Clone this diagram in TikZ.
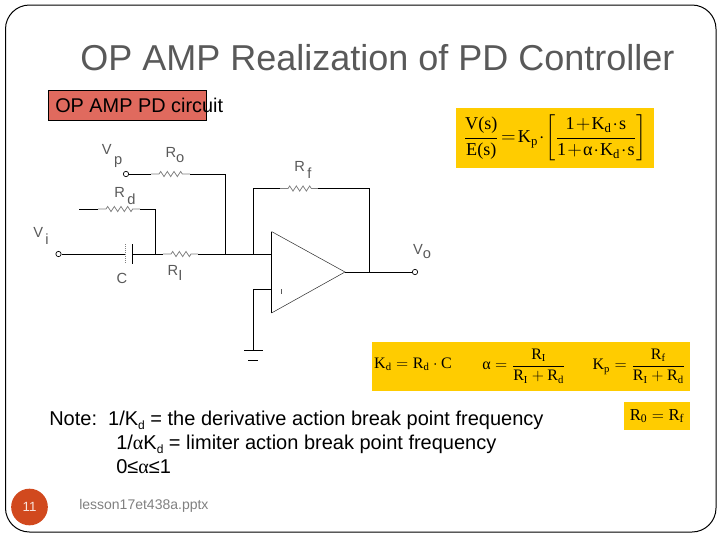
\documentclass[tikz,border=0pt]{standalone}
\usepackage{amsmath}
\usepackage{fontspec}
\setmainfont{Liberation Sans}
\newfontfamily\timesfont{Liberation Serif}
\usetikzlibrary{decorations.pathmorphing}
\definecolor{customyellow}{RGB}{255, 204, 0}
\definecolor{customred}{RGB}{224, 106, 94}
\definecolor{customorange}{RGB}{209, 73, 30}
\definecolor{customgray}{RGB}{89, 89, 89}
\newcommand{\fm}[1]{\text{\timesfont #1}}
\newcommand{\sublbl}[2]{#1\raisebox{-5pt}{\,#2}}
\newcommand{\subd}{\raisebox{-3pt}{\fontsize{9}{9}\selectfont d}}
\tikzset{
    wire/.style={line width=0.75pt},
    res/.style={line width=0.6pt, draw=gray, decorate,
        decoration={zigzag, amplitude=1.9pt, segment length=5pt, pre length=6pt, post length=4pt}},
    term/.style={circle, draw, line width=0.5pt, inner sep=0pt, minimum size=4pt},
    lbl/.style={text=customgray, font=\fontsize{11}{11}\selectfont, inner sep=0pt},
    eqbox/.style={fill=customyellow, inner sep=0pt},
    eqn/.style={inner sep=0pt, font=\fontsize{12}{14}\selectfont},
    notetext/.style={anchor=base west, inner sep=0pt, font=\fontsize{15}{17}\selectfont},
}

\begin{document}
\begin{tikzpicture}[x=0.75pt, y=-0.75pt]
    \useasboundingbox (0,0) rectangle (720,540);
    \draw[line width=0.75pt, rounded corners=18pt] (5.5,5) rectangle (716,532);

    % title and tag
    \node[anchor=base west, inner sep=0pt, text=customgray, font=\fontsize{27}{30}\selectfont] (title) at (80,70) {OP AMP Realization of PD Controller};
    \node[draw, fill=customred, line width=0.75pt, minimum width=119pt, minimum height=23pt, inner sep=0pt] (tag) at (127.5,105.5) {};
    \node[anchor=base west, inner sep=0pt, font=\fontsize{14.9}{16}\selectfont] (tagtext) at (55,112) {OP AMP PD circuit};

    % formula boxes
    \node[eqbox, minimum width=148.5pt, minimum height=45pt] (boxT) at (555,138) {};
    \node[eqbox, minimum width=238.5pt, minimum height=36.75pt] (boxK) at (531,366.5) {};
    \node[eqbox, minimum width=49.5pt, minimum height=21pt] (boxR) at (657,416) {};
    \node[eqn, font=\fontsize{13.6}{16}\selectfont] (eqT) at (555,138) {\thinmuskip=1mu\medmuskip=1mu\thickmuskip=2mu$\dfrac{\fm{V(s)}}{\fm{E(s)}} = \fm{K}_{\fm{p}} \cdot \left[\dfrac{\fm{1} + \fm{K}_{\fm{d}} \cdot \fm{s}}{\fm{1} + \fm{α} \cdot \fm{K}_{\fm{d}} \cdot \fm{s}}\right]$};
    \node[eqn] (eqKd) at (413,364) {$\fm{K}_{\fm{d}} = \fm{R}_{\fm{d}} \cdot \fm{C}$};
    \node[eqn] (eqAl) at (524,366) {$\fm{α} = \dfrac{\fm{R}_{\fm{I}}}{\fm{R}_{\fm{I}} + \fm{R}_{\fm{d}}}$};
    \node[eqn] (eqKp) at (639,366) {$\fm{K}_{\fm{p}} = \dfrac{\fm{R}_{\fm{f}}}{\fm{R}_{\fm{I}} + \fm{R}_{\fm{d}}}$};
    \node[eqn, font=\fontsize{12.5}{14}\selectfont] (eqR) at (657,416) {$\fm{R}_{\fm{0}} = \fm{R}_{\fm{f}}$};

    % circuit
    \node[term] (Vp) at (126,174) {};
    \node[term] (Vi) at (58.5,254) {};
    \node[term] (Vo) at (415,272) {};
    \coordinate (RoA) at (151,174);
    \coordinate (RoB) at (190,174);
    \coordinate (RdS) at (79,209);
    \coordinate (RdA) at (98,209);
    \coordinate (RdB) at (140,209);
    \coordinate (RdE) at (155,209);
    \coordinate (capA) at (125,254);
    \coordinate (capB) at (132.5,254);
    \coordinate (capBt) at (132.5,244);
    \coordinate (capBb) at (132.5,264);
    \coordinate (capAt) at (125,244);
    \coordinate (capAb) at (125,264);
    \coordinate (J1) at (155,254);
    \coordinate (RiA) at (163,254);
    \coordinate (RiB) at (198,254);
    \coordinate (J2) at (225.5,254);
    \coordinate (Ro2) at (225.5,174);
    \coordinate (J3) at (253.5,254);
    \coordinate (Rf1) at (253.5,188.5);
    \coordinate (RfA) at (280,188.5);
    \coordinate (RfB) at (318,188.5);
    \coordinate (Rf2) at (369,188.5);
    \coordinate (J4) at (369,272);
    \coordinate (inP) at (271.5,289.5);
    \coordinate (inM) at (271.5,254);
    \coordinate (oaT) at (271.5,231.5);
    \coordinate (oaB) at (271.5,313);
    \coordinate (oaO) at (345,272);
    \coordinate (gnd1) at (253.5,289.5);
    \coordinate (gnd2) at (253.5,350);

    \draw[wire] (Vp) -- (RoA);
    \draw[res] (RoA) -- (RoB);
    \draw[wire] (RoB) -- (Ro2) -- (J2);
    \draw[wire] (RdS) -- (RdA);
    \draw[res] (RdA) -- (RdB);
    \draw[wire] (RdB) -- (RdE) -- (J1);
    \draw[wire] (Vi) -- (capA);
    \draw[line width=0.5pt, gray, densely dotted] (capAt) -- (capAb);
    \draw[wire] (capBt) -- (capBb);
    \draw[wire] (capB) -- (RiA);
    \draw[res] (RiA) -- (RiB);
    \draw[wire] (RiB) -- (inM);
    \draw[wire] (J3) -- (Rf1) -- (RfA);
    \draw[res] (RfA) -- (RfB);
    \draw[wire] (RfB) -- (Rf2) -- (J4);
    \draw[wire] (oaT) -- (oaB);
    \draw[line width=0.4pt, black!80] (oaT) -- (oaO) -- (oaB);
    \draw[wire] (oaO) -- (Vo);
    \draw[wire] (inP) -- (gnd1) -- (gnd2);
    \draw[wire] (244,350) -- (263,350);
    \draw[wire] (248,360) -- (258,360);
    \draw[line width=0.5pt, customgray] (281,289) -- (281,294);

    \node[lbl] (lVp) at (112,156) {V\raisebox{-7pt}{\,p}};
    \node[lbl] (lRo) at (175,155) {R\raisebox{-4pt}{o}};
    \node[lbl] (lRd) at (125,196) {\sublbl{R}{d}};
    \node[lbl] (lVi) at (41,236) {\sublbl{V}{i}};
    \node[lbl] (lC) at (122,278) {C};
    \node[lbl] (lRi) at (175,273) {R\raisebox{-4pt}{I}};
    \node[lbl] (lRf) at (303,170) {\sublbl{R}{f}};
    \node[lbl] (lVo) at (422,252) {V\raisebox{-3pt}{o}};

    % note
    \node[notetext] (note1) at (49,425) {Note:\ \ 1/K\subd{} = the derivative action break point frequency};
    \node[notetext] (note2) at (116,449) {1/{\timesfont α}K\subd{} = limiter action break point frequency};
    \node[notetext] (note3) at (116,473) {0≤{\timesfont α}≤1};

    % footer
    \node[circle, fill=customorange, minimum size=27.5pt, inner sep=0pt, text=white!85!customorange, font=\fontsize{10}{12}\selectfont] (page) at (29.5,507) {11};
    \node[anchor=base west, inner sep=0pt, text=gray, font=\fontsize{10.5}{12}\selectfont] (foot) at (79,509) {lesson17et438a.pptx};
\end{tikzpicture}
\end{document}
